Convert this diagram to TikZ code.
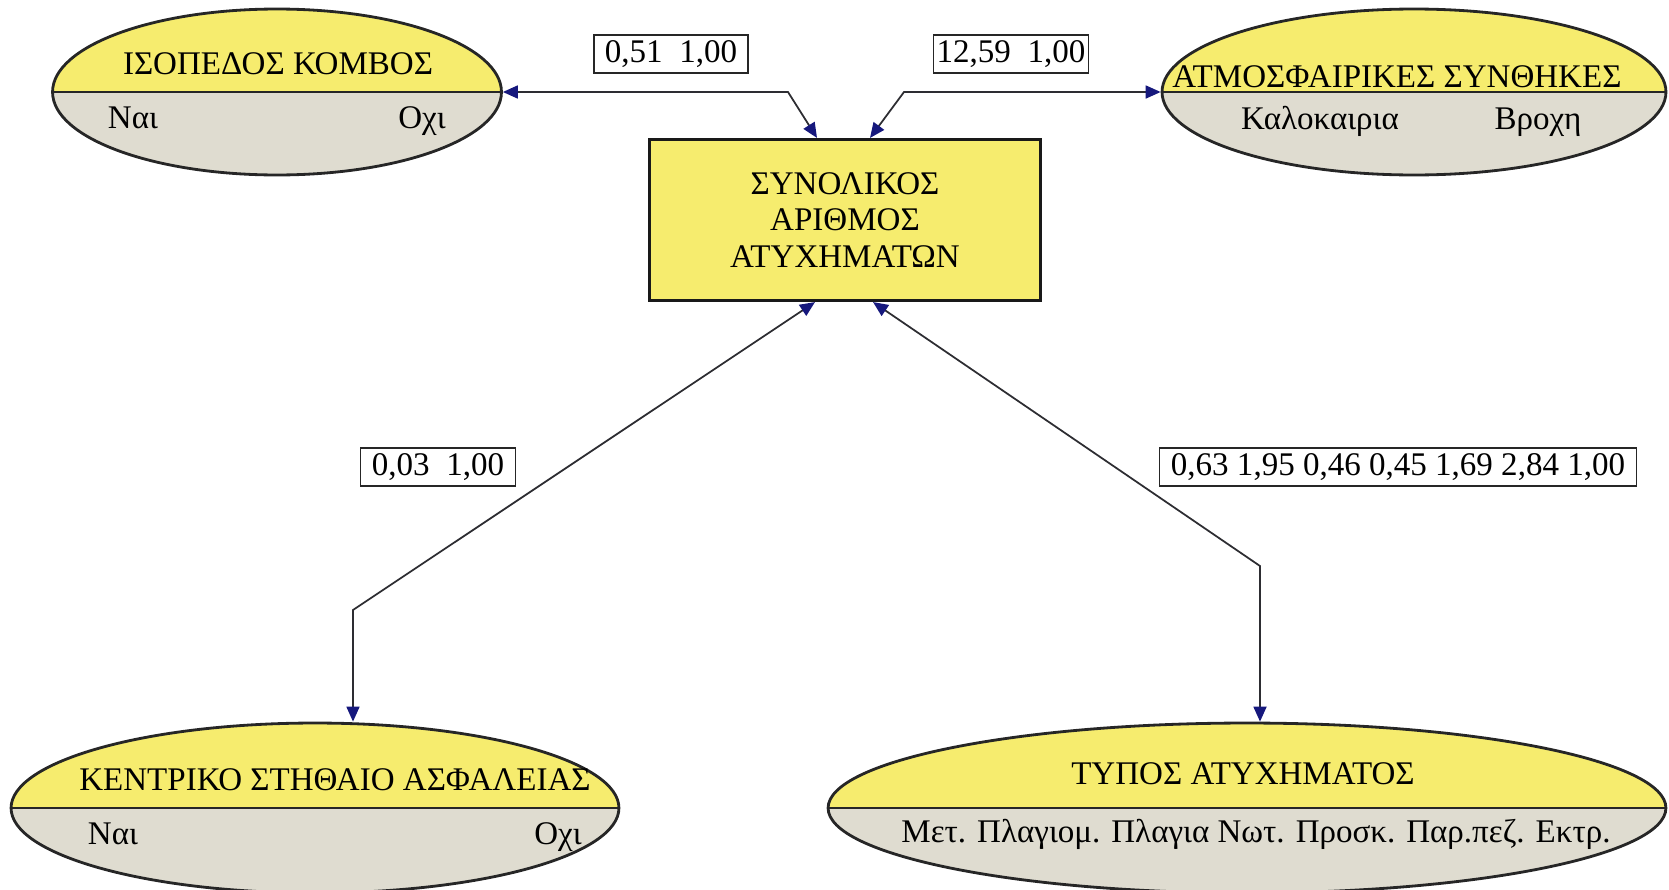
\documentclass[tikz,border=0pt]{standalone}
\usepackage{fontspec}
\setmainfont{Liberation Serif}
\usetikzlibrary{positioning, calc, arrows.meta, shapes.geometric}

\definecolor{varyellow}{RGB}{246,236,110}
\definecolor{vargrey}{RGB}{223,220,208}
\definecolor{arrblue}{RGB}{22,24,125}
\definecolor{edgegrey}{RGB}{45,45,50}

\begin{document}
\begin{tikzpicture}[
		x=0.02cm, y=-0.02cm,
		every node/.style={font=\fontsize{18.8}{21}\selectfont},
		varnode/.style={ellipse, draw=black!85, line width=1.6pt, fill=varyellow, inner sep=0pt, minimum height=3.32cm,
		path picture={\fill[vargrey] (path picture bounding box.west) rectangle (path picture bounding box.south east);
		\draw[line width=1.6pt, black!85] (path picture bounding box.west) -- (path picture bounding box.east);}},
		mainbox/.style={rectangle, draw=black!90, line width=1.8pt, fill=varyellow, align=center, minimum width=7.82cm, minimum height=3.22cm},
		valbox/.style={rectangle, draw=black!85, line width=0.8pt, fill=white, inner sep=0pt, minimum height=0.76cm},
		ttl/.style={anchor=base, inner sep=0pt},
		link/.style={<->, draw=edgegrey, line width=1pt},
		>={Triangle[length=0.3cm, width=0.26cm, color=arrblue]}
	]

	\useasboundingbox (0,0) rectangle (1669,889);

	\node[varnode, minimum width=8.98cm] (kombos) at (277,92) {};
	\node[varnode, minimum width=10.08cm] (kairos) at (1414,92) {};
	\node[varnode, minimum width=12.16cm, minimum height=3.4cm] (stithaio) at (315,808) {};
	\node[varnode, minimum width=16.76cm, minimum height=3.4cm] (typos) at (1247,808) {};
	\node[mainbox] (synolo) at (845,220) {ΣΥΝΟΛΙΚΟΣ\\ΑΡΙΘΜΟΣ\\ΑΤΥΧΗΜΑΤΩΝ};

	\node[ttl] (kombost) at (278,74) {ΙΣΟΠΕΔΟΣ ΚΟΜΒΟΣ};
	\node[ttl] (kombosa) at (133,128) {Ναι};
	\node[ttl] (kombosb) at (422,128) {Οχι};
	\node[ttl] (kairost) at (1397,87) {ΑΤΜΟΣΦΑΙΡΙΚΕΣ ΣΥΝΘΗΚΕΣ};
	\node[ttl] (kairosa) at (1320,129) {Καλοκαιρια};
	\node[ttl] (kairosb) at (1538,129) {Βροχη};
	\node[ttl] (stithaiot) at (335,790) {ΚΕΝΤΡΙΚΟ ΣΤΗΘΑΙΟ ΑΣΦΑΛΕΙΑΣ};
	\node[ttl] (stithaioa) at (113,844) {Ναι};
	\node[ttl] (stithaiob) at (558,844) {Οχι};
	\node[ttl] (typost) at (1243,784) {ΤΥΠΟΣ ΑΤΥΧΗΜΑΤΟΣ};
	\node[ttl] (typosa) at (1256,842) {Μετ. Πλαγιομ. Πλαγια Νωτ. Προσκ. Παρ.πεζ. Εκτρ.};

	\node[valbox, minimum width=3.08cm] (vkombos) at (671,54) {0,51\enspace 1,00};
	\node[valbox, minimum width=3.1cm] (vkairos) at (1011,54) {12,59\enspace 1,00};
	\node[valbox, minimum width=3.1cm] (vstithaio) at (438,467) {0,03\enspace 1,00};
	\node[valbox, minimum width=9.54cm] (vtypos) at (1398,467) {0,63 1,95 0,46 0,45 1,69 2,84 1,00};

	\coordinate (kbend) at (788,92);
	\coordinate (abend) at (904,92);
	\coordinate (sbend) at (353,610);
	\coordinate (tbend) at (1260,566);
	\coordinate (synk) at ($(synolo.north)+(-28,0)$);
	\coordinate (syna) at ($(synolo.north)+(25,0)$);
	\coordinate (syns) at ($(synolo.south)+(-30,0)$);
	\coordinate (synt) at ($(synolo.south)+(28,0)$);

	\foreach \i/\j/\k in {kombos.east/kbend/synk, kairos.west/abend/syna}
		\draw[link] (\i) -- (\j) -- (\k);

	\draw[link] (syns) -- (sbend) -- (sbend |- stithaio.north);
	\draw[link] (synt) -- (tbend) -- (tbend |- typos.north);

\end{tikzpicture}
\end{document}
